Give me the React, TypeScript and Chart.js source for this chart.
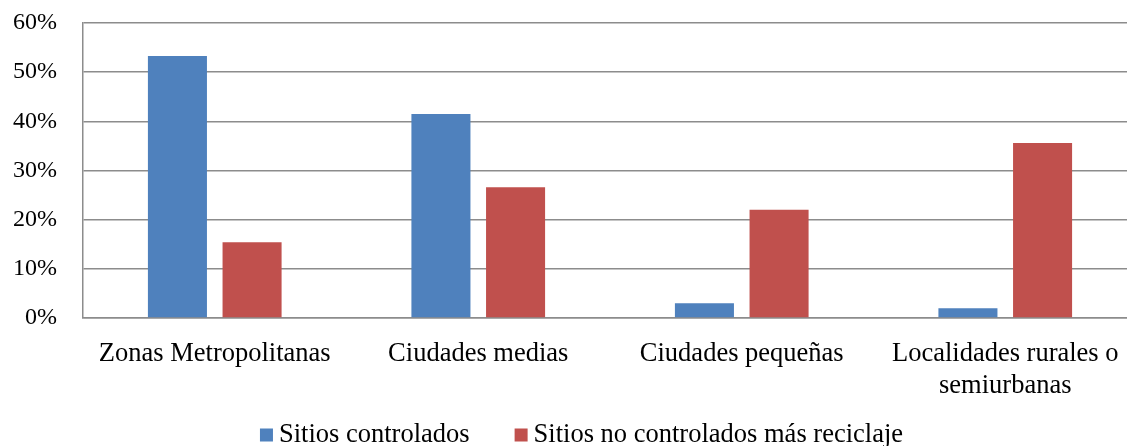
import React, { useEffect, useRef } from "react";
import { Chart, registerables } from "chart.js";

Chart.register(...registerables);

const categories: (string | string[])[] = [
  "Zonas Metropolitanas",
  "Ciudades medias",
  "Ciudades pequeñas",
  ["Localidades rurales o", "semiurbanas"],
];
const controlados = [53.3, 41.5, 3.0, 2.0];
const noControlados = [15.4, 26.6, 22.0, 35.6];
const seriesNames = ["Sitios controlados", "Sitios no controlados más reciclaje"];
const yTicks = [0, 10, 20, 30, 40, 50, 60];

const family = "'Liberation Serif', 'Times New Roman', serif";

const bottomLegend = {
  id: "bottomLegend",
  afterDraw(chart: any) {
    const ctx = chart.ctx;
    const fontSize = 26.5;
    const box = 13;
    const boxGap = 6;
    const itemGap = 45;
    const cy = 435;
    ctx.save();
    ctx.font = `${fontSize}px ${family}`;
    ctx.textBaseline = "middle";
    ctx.textAlign = "left";
    const items = chart.data.datasets.map((d: any) => ({
      text: d.label,
      color: d.backgroundColor,
      w: ctx.measureText(d.label).width,
    }));
    const total =
      items.reduce((s: number, it: any) => s + box + boxGap + it.w, 0) +
      itemGap * (items.length - 1);
    let x = 581.5 - total / 2;
    for (const it of items) {
      ctx.fillStyle = it.color;
      ctx.fillRect(x, cy - box / 2, box, box);
      x += box + boxGap;
      ctx.fillStyle = "#000";
      ctx.fillText(it.text, x, cy);
      x += it.w + itemGap;
    }
    ctx.restore();
  },
};

export default function App() {
  const ref = useRef<HTMLCanvasElement | null>(null);
  useEffect(() => {
    document.body.style.margin = "0";
    const chart = new Chart(ref.current!, {
      type: "bar",
      data: {
        labels: categories,
        datasets: [
          {
            label: seriesNames[0],
            data: controlados,
            backgroundColor: "#4F81BD",
            categoryPercentage: 0.5665,
            barPercentage: 0.791,
          },
          {
            label: seriesNames[1],
            data: noControlados,
            backgroundColor: "#C0504D",
            categoryPercentage: 0.5665,
            barPercentage: 0.791,
          },
        ],
      },
      plugins: [bottomLegend],
      options: {
        animation: false,
        responsive: false,
        maintainAspectRatio: false,
        layout: { padding: { top: 0, right: 0, left: 0, bottom: 40 } },
        plugins: {
          tooltip: { enabled: false },
          legend: { display: false },
        },
        scales: {
          x: {
            grid: { display: false, drawTicks: false },
            border: { display: true, color: "#8c8c8c", width: 1.5 },
            ticks: {
              font: { family, size: 26.5, lineHeight: 1.2 },
              color: "#000",
              padding: 20,
              maxRotation: 0,
              autoSkip: false,
            },
            afterFit: (s: any) => {
              s.height = 88;
              s.paddingLeft = 0;
              s.paddingRight = 0;
              s.paddingTop = 0;
              s.paddingBottom = 0;
            },
          },
          y: {
            min: 0,
            max: 60,
            afterBuildTicks: (s: any) => {
              s.ticks = yTicks.map((v) => ({ value: v }));
            },
            grid: { color: "#8c8c8c", lineWidth: 1.5, drawTicks: false },
            border: { display: true, color: "#8c8c8c", width: 1.5 },
            ticks: {
              font: { family, size: 24 },
              color: "#000",
              padding: 26,
              callback: (v: any) => v + "%",
            },
            afterFit: (s: any) => {
              s.width = 83;
              s.paddingTop = 23;
              s.paddingBottom = 0;
            },
          },
        },
      },
    });
    return () => chart.destroy();
  }, []);
  return (
    <div style={{ width: 1127, height: 446, overflow: "hidden" }}>
      <canvas ref={ref} width={1137} height={446} style={{ display: "block" }} />
    </div>
  );
}
